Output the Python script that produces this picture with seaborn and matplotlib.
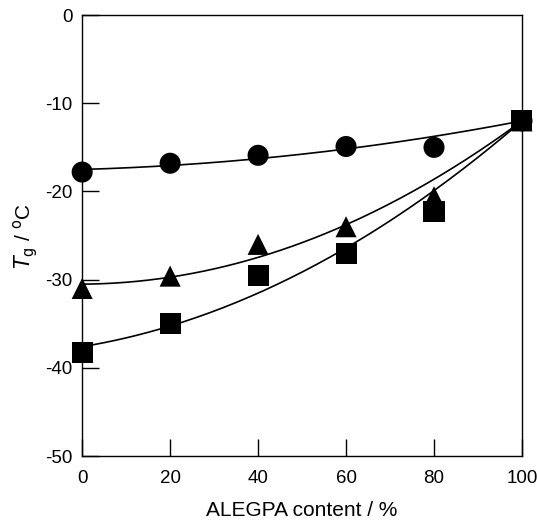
import numpy as np
import pandas as pd
import matplotlib
matplotlib.use("Agg")
import matplotlib.pyplot as plt
import seaborn as sns

# data
content = [0, 20, 40, 60, 80, 100]
tg_circle = [-17.8, -16.8, -15.9, -14.9, -15.0, -12.0]
tg_triangle = [-31.0, -29.6, -26.0, -24.0, -20.6, -12.0]
tg_square = [-38.3, -35.0, -29.5, -27.0, -22.3, -12.0]

sns.set_style("white")
plt.rcParams["font.family"] = ["Liberation Sans", "DejaVu Sans"]
plt.rcParams["axes.unicode_minus"] = False
plt.rcParams["text.color"] = "black"
plt.rcParams["axes.labelcolor"] = "black"
plt.rcParams["xtick.color"] = "black"
plt.rcParams["ytick.color"] = "black"

df = pd.DataFrame({"content": content * 3,
                   "tg": tg_circle + tg_triangle + tg_square,
                   "series": ["circle"] * 6 + ["triangle"] * 6 + ["square"] * 6})

fig = plt.figure(figsize=(5.37, 5.2), dpi=100)
ax = fig.add_axes([0.153, 0.123, 0.819, 0.848])

# fitted curves, pinned at the pure ALEGPA point
xs = np.linspace(0, 100, 200)
weights = [1, 1, 1, 1, 1, 20]
for tg in [tg_circle, tg_triangle, tg_square]:
    coef = np.polyfit(content, tg, 2, w=weights)
    sns.lineplot(x=xs, y=np.polyval(coef, xs), color="black", lw=1.2, ax=ax)

sns.scatterplot(data=df, x="content", y="tg", style="series",
                markers={"circle": "o", "triangle": "^", "square": "s"},
                color="black", s=230, edgecolor="none", legend=False,
                ax=ax, zorder=3, clip_on=False)

ax.set_xlim(0, 100)
ax.set_ylim(-50, 0)
ax.set_xticks([0, 20, 40, 60, 80, 100])
ax.set_yticks([-50, -40, -30, -20, -10, 0])
ax.tick_params(direction="in", length=12, width=1, labelsize=13.5,
               top=False, right=False, left=True, bottom=True)
ax.tick_params(axis="x", pad=10)
ax.tick_params(axis="y", pad=7)
for s in ax.spines.values():
    s.set_color("black")
    s.set_linewidth(1)
ax.set_xlabel("ALEGPA content / %", fontsize=15, labelpad=10)
ax.set_ylabel(r"$T_{\rm g}$ / $^{\rm o}$C", fontsize=15, labelpad=4)

fig.savefig("out.png", dpi=100)
